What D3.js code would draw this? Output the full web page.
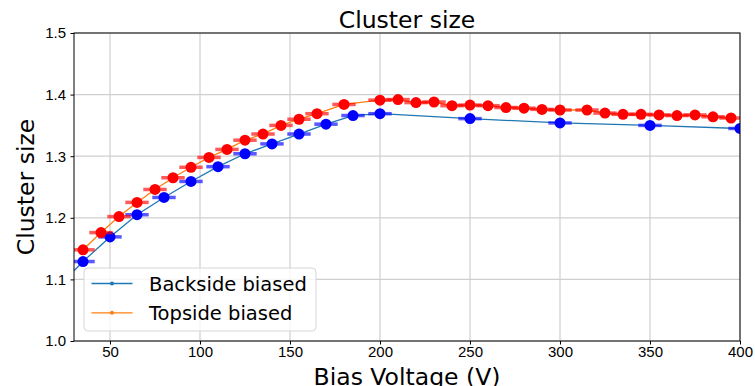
<!DOCTYPE html>
<html>
<head>
<meta charset="utf-8">
<script src="https://cdn.jsdelivr.net/npm/d3@7"></script>
<style>
  body { margin: 0; background: #fff; }
  svg { font-family: "DejaVu Sans", sans-serif; }
</style>
</head>
<body>
<svg id="chart"></svg>
<script>
const backsideVoltage = [35, 50, 65, 80, 95, 110, 125, 140, 155, 170, 185, 200, 250, 300, 350, 400];
const backsideSize = [1.129, 1.169, 1.205, 1.233, 1.259, 1.283, 1.304, 1.320, 1.336, 1.352, 1.366, 1.369, 1.361, 1.354, 1.350, 1.345];

const topsideVoltage = [35, 45, 55, 65, 75, 85, 95, 105, 115, 125, 135, 145, 155, 165, 180, 200, 210, 220, 230, 240, 250, 260, 270, 280, 290, 300, 315, 325, 335, 345, 355, 365, 375, 385, 395];
const topsideSize = [1.148, 1.176, 1.202, 1.225, 1.246, 1.265, 1.282, 1.298, 1.311, 1.326, 1.336, 1.350, 1.360, 1.369, 1.384, 1.391, 1.392, 1.387, 1.388, 1.382, 1.383, 1.382, 1.379, 1.378, 1.376, 1.375, 1.375, 1.370, 1.368, 1.368, 1.367, 1.366, 1.367, 1.364, 1.362];

// voltage error (half width of the horizontal bars)
const voltageErr = 6.5;

// backside curve starts at the left edge of the axes
const backsideCurveStart = [30, 1.114];

const xTicks = [50, 100, 150, 200, 250, 300, 350, 400];
const yTicks = [1.0, 1.1, 1.2, 1.3, 1.4, 1.5];

const seriesNames = ["Backside biased", "Topside biased"];
const lineColors = ["#1f77b4", "#ff7f0e"];
const pointColors = ["#0000ff", "#ff0000"];

const width = 755;
const height = 386;
const plotLeft = 74, plotRight = 740, plotTop = 33, plotBottom = 341;

const svg = d3.select("#chart")
    .attr("width", width)
    .attr("height", height);

const x = d3.scaleLinear().domain([30, 400]).range([plotLeft, plotRight]);
const y = d3.scaleLinear().domain([1.0, 1.5]).range([plotBottom, plotTop]);

svg.append("defs").append("clipPath")
    .attr("id", "plotClip")
    .append("rect")
    .attr("x", plotLeft)
    .attr("y", plotTop)
    .attr("width", plotRight - plotLeft)
    .attr("height", plotBottom - plotTop);

// grid
const grid = svg.append("g").attr("class", "grid");
grid.selectAll("line.vgrid")
    .data(xTicks)
    .enter()
    .append("line")
    .attr("x1", d => x(d)).attr("x2", d => x(d))
    .attr("y1", plotTop).attr("y2", plotBottom)
    .attr("stroke", "#cfcfcf")
    .attr("stroke-width", 1.2);
grid.selectAll("line.hgrid")
    .data(yTicks)
    .enter()
    .append("line")
    .attr("x1", plotLeft).attr("x2", plotRight)
    .attr("y1", d => y(d)).attr("y2", d => y(d))
    .attr("stroke", "#cfcfcf")
    .attr("stroke-width", 1.2);

const series = [
    { name: seriesNames[0], v: backsideVoltage, s: backsideSize, curve: [backsideCurveStart].concat(backsideVoltage.map((v, i) => [v, backsideSize[i]])) },
    { name: seriesNames[1], v: topsideVoltage, s: topsideSize, curve: topsideVoltage.map((v, i) => [v, topsideSize[i]]) }
];

const plot = svg.append("g").attr("clip-path", "url(#plotClip)");

const line = d3.line()
    .x(d => x(d[0]))
    .y(d => y(d[1]));

series.forEach((ser, k) => {
    const g = plot.append("g");
    g.append("path")
        .datum(ser.curve)
        .attr("fill", "none")
        .attr("stroke", lineColors[k])
        .attr("stroke-width", 1.3)
        .attr("d", line);

    g.selectAll("line.err")
        .data(ser.v)
        .enter()
        .append("line")
        .attr("x1", d => x(d - voltageErr))
        .attr("x2", d => x(d + voltageErr))
        .attr("y1", (d, i) => y(ser.s[i]))
        .attr("y2", (d, i) => y(ser.s[i]))
        .attr("stroke", pointColors[k])
        .attr("stroke-opacity", 0.65)
        .attr("stroke-width", 3.5);

    g.selectAll("circle.pt")
        .data(ser.v)
        .enter()
        .append("circle")
        .attr("cx", d => x(d))
        .attr("cy", (d, i) => y(ser.s[i]))
        .attr("r", 5.5)
        .attr("fill", pointColors[k]);
});

// axes
const xAxis = svg.append("g")
    .attr("transform", `translate(0, ${plotBottom})`)
    .call(d3.axisBottom(x).tickValues(xTicks).tickSize(3.5).tickPadding(2).tickSizeOuter(0).tickFormat(d3.format("d")));
xAxis.select(".domain").remove();
xAxis.selectAll("text").style("font-size", "15px").attr("fill", "#000");

const yAxis = svg.append("g")
    .attr("transform", `translate(${plotLeft}, 0)`)
    .call(d3.axisLeft(y).tickValues(yTicks).tickSize(3.5).tickPadding(4.5).tickSizeOuter(0).tickFormat(d3.format(".1f")));
yAxis.select(".domain").remove();
yAxis.selectAll("text").style("font-size", "15px").attr("fill", "#000");

svg.append("rect")
    .attr("x", plotLeft)
    .attr("y", plotTop)
    .attr("width", plotRight - plotLeft)
    .attr("height", plotBottom - plotTop)
    .attr("fill", "none")
    .attr("stroke", "#000")
    .attr("stroke-width", 1);

// titles
svg.append("text")
    .attr("x", (plotLeft + plotRight) / 2)
    .attr("y", 28)
    .attr("text-anchor", "middle")
    .style("font-size", "23.5px")
    .text("Cluster size");

svg.append("text")
    .attr("x", (plotLeft + plotRight) / 2)
    .attr("y", 385)
    .attr("text-anchor", "middle")
    .style("font-size", "23.5px")
    .text("Bias Voltage (V)");

svg.append("text")
    .attr("transform", `translate(34, ${(plotTop + plotBottom) / 2}) rotate(-90)`)
    .attr("text-anchor", "middle")
    .style("font-size", "23.5px")
    .text("Cluster size");

// legend
const legend = svg.append("g").attr("transform", "translate(84, 268)");
legend.append("rect")
    .attr("width", 232)
    .attr("height", 63)
    .attr("rx", 4)
    .attr("fill", "#fff")
    .attr("fill-opacity", 0.8)
    .attr("stroke", "#d6d6d6")
    .attr("stroke-width", 1);

seriesNames.forEach((name, k) => {
    const ly = 15.5 + k * 29.3;
    legend.append("line")
        .attr("x1", 7.5).attr("x2", 48.5)
        .attr("y1", ly).attr("y2", ly)
        .attr("stroke", lineColors[k])
        .attr("stroke-width", 1.3);
    legend.append("circle")
        .attr("cx", 28).attr("cy", ly)
        .attr("r", 2)
        .attr("fill", lineColors[k]);
    legend.append("text")
        .attr("x", 65)
        .attr("y", ly + 7.5)
        .style("font-size", "19.5px")
        .text(name);
});
</script>
</body>
</html>
